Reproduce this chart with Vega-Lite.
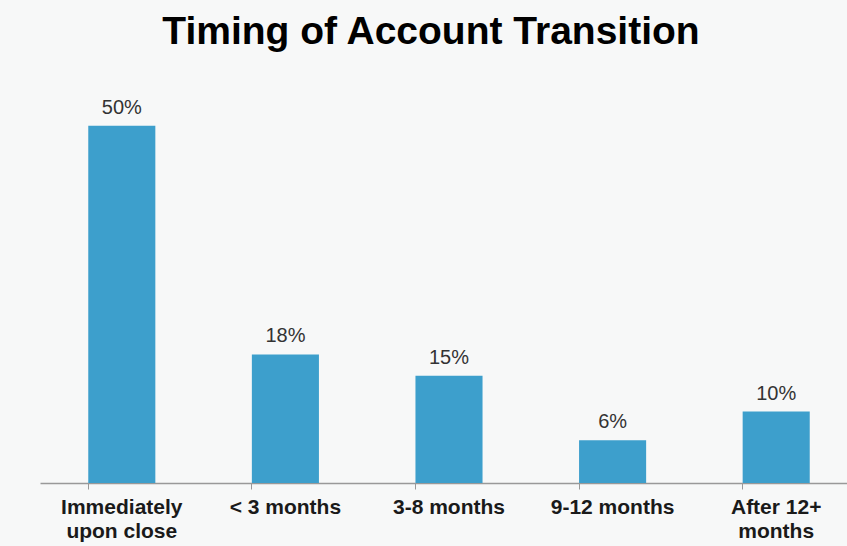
{
  "$schema": "https://vega.github.io/schema/vega-lite/v6.json",
  "autosize": "none",
  "width": 818,
  "height": 393,
  "padding": {"left": 40, "top": 90, "right": 0, "bottom": 63},
  "background": "#f7f8f8",
  "title": {
    "text": "Timing of Account Transition",
    "font": "Liberation Sans",
    "fontSize": 39,
    "fontWeight": "bold",
    "color": "#000000",
    "anchor": "middle",
    "dx": -18,
    "offset": 38
  },
  "data": {
    "values": [
      {"timing": "Immediately|upon close", "pct": 50, "label": "50%"},
      {"timing": "< 3 months", "pct": 18, "label": "18%"},
      {"timing": "3-8 months", "pct": 15, "label": "15%"},
      {"timing": "9-12 months", "pct": 6, "label": "6%"},
      {"timing": "After 12+|months", "pct": 10, "label": "10%"}
    ]
  },
  "config": {
    "view": {"stroke": null},
    "font": "Liberation Sans"
  },
  "encoding": {
    "x": {
      "field": "timing",
      "type": "nominal",
      "sort": null,
      "title": null,
      "scale": {"paddingInner": 0.59, "paddingOuter": 0.295},
      "axis": {
        "labelAngle": 0,
        "labelExpr": "split(datum.value, '|')",
        "labelFont": "Liberation Sans",
        "labelFontSize": 21,
        "labelFontWeight": "bold",
        "labelColor": "#1a1a1a",
        "labelLineHeight": 24,
        "labelPadding": 7,
        "bandPosition": 0,
        "tickSize": 6,
        "tickColor": "#999999",
        "domainColor": "#999999",
        "domainWidth": 1.5,
        "labelBound": false,
        "labelOverlap": false
      }
    },
    "y": {
      "field": "pct",
      "type": "quantitative",
      "scale": {"domain": [0, 55]},
      "axis": null
    }
  },
  "layer": [
    {"mark": {"type": "bar", "color": "#3d9fcc"}},
    {
      "mark": {"type": "text", "baseline": "alphabetic", "dy": -12, "fontSize": 20, "color": "#333333", "font": "Liberation Sans"},
      "encoding": {"text": {"field": "label"}}
    }
  ]
}
